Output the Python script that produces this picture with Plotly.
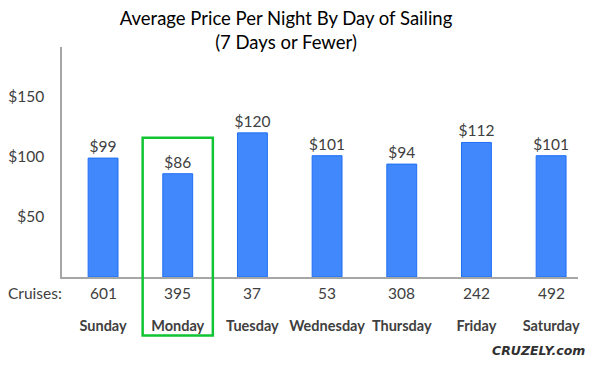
import plotly.graph_objects as go

days = ["Sunday", "Monday", "Tuesday", "Wednesday", "Thursday", "Friday", "Saturday"]
avg_price = [99, 86, 120, 101, 94, 112, 101]
cruises = [601, 395, 37, 53, 308, 242, 492]
y_ticks = [50, 100, 150]
y_tick_labels = ["$50", "$100", "$150"]
highlight_day = "Monday"

FONT = "Lato, 'Open Sans', sans-serif"
TXT = "#404040"

fig = go.Figure()
fig.add_trace(go.Bar(
    x=days, y=avg_price,
    width=0.4,
    marker=dict(color="#4088fc", line=dict(color="#1f6ff5", width=1)),
    text=["$%d" % v for v in avg_price],
    textposition="outside",
    constraintext="none",
    textfont=dict(size=15.5, color=TXT, family=FONT),
    cliponaxis=False,
    hoverinfo="skip",
))

# cruise counts row
for d, c in zip(days, cruises):
    fig.add_annotation(x=d, xref="x", y=-0.071, yref="paper", text=str(c),
                       showarrow=False, xanchor="center", yanchor="middle",
                       font=dict(size=15.5, color=TXT, family=FONT))
fig.add_annotation(x=-0.052, xref="paper", y=-0.071, yref="paper", text="Cruises:",
                   showarrow=False, xanchor="center", yanchor="middle",
                   font=dict(size=15.5, color=TXT, family=FONT))

# highlight box around a day
hi = days.index(highlight_day)
fig.add_shape(type="rect", xref="x", yref="paper",
              x0=hi - 0.47, x1=hi + 0.47, y0=-0.254, y1=0.605,
              line=dict(color="#11c433", width=2.5), fillcolor="rgba(0,0,0,0)")

fig.add_annotation(x=1.017, xref="paper", y=-0.32, yref="paper",
                   text="<b><i>CRUZELY</i></b><i><b>.com</b></i>",
                   showarrow=False, xanchor="right", yanchor="middle",
                   font=dict(size=12.5, color="#303030", family="'DejaVu Sans', sans-serif"))

fig.update_layout(
    width=593, height=370,
    margin=dict(l=62, r=15, t=47, b=93, autoexpand=False),
    paper_bgcolor="white", plot_bgcolor="white",
    showlegend=False,
    title=dict(text="Average Price Per Night By Day of Sailing<br>(7 Days or Fewer)",
               x=286 / 593, xanchor="center", xref="container",
               y=1 - 25 / 370, yanchor="middle", yref="container",
               font=dict(size=18.5, color="black", family=FONT)),
    xaxis=dict(type="category", range=[-0.55, 6.36], showline=True, linecolor="#a6a6a6",
               linewidth=1.5, ticks="", showgrid=False, zeroline=False, automargin=False,
               tickvals=days, ticktext=["<b>%s</b>" % d for d in days],
               tickfont=dict(size=14.5, color=TXT, family=FONT), tickangle=0,
               ticklabelstandoff=35),
    yaxis=dict(range=[0, 191.5], showline=True, linecolor="#a6a6a6", linewidth=1.5,
               ticks="", showgrid=False, zeroline=False, automargin=False,
               tickvals=y_ticks, ticktext=y_tick_labels,
               tickfont=dict(size=15.5, color=TXT, family=FONT),
               ticklabelstandoff=13),
)

fig.write_html("out.html", post_script="document.body.style.margin='0';",
               config={"displayModeBar": False})
